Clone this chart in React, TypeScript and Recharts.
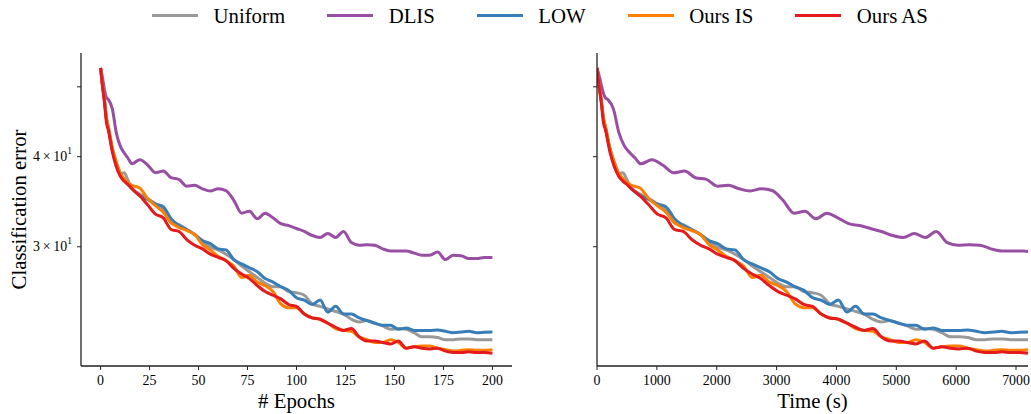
import { Line, LineChart, XAxis, YAxis } from "recharts";

// classification error (%), one value per epoch below
const epochs = [
  0, 1, 2, 3, 4, 6, 8, 10, 12, 14, 16,
  20, 24, 28, 32, 36, 40, 44, 48, 52, 56, 60, 64, 68, 72, 76, 80, 84, 88, 92, 96,
  100, 104, 108, 112, 116, 120, 124, 128, 132, 136, 140, 144, 148, 152, 156,
  160, 164, 168, 172, 176, 180, 184, 188, 192, 196, 200,
];

const uniform = [
  53.1, 50.2, 47.8, 45.1, 43.7, 40.9, 38.8, 37.9, 38.0, 37.1, 36.2,
  35.5, 35.0, 34.4, 33.8, 32.4, 32.2, 31.7, 31.2, 30.5, 29.97, 29.7, 29.3, 28.8, 28.2, 27.7, 27.2, 26.7, 26.4, 26.4, 26.0,
  25.9, 25.7, 25.0, 24.8, 24.6, 24.4, 24.2, 23.8, 23.6, 23.7, 23.5, 23.3, 23.05, 23.1, 23.05,
  22.8, 22.5, 22.5, 22.45, 22.3, 22.3, 22.35, 22.35, 22.3, 22.3, 22.3,
];

const dlis = [
  53.1, 51.4, 49.5, 48.3, 48.0, 46.6, 43.2, 41.4, 40.5, 39.8, 39.1,
  39.6, 38.95, 38.0, 38.2, 37.4, 37.2, 36.4, 36.5, 36.1, 35.85, 36.1, 35.9, 34.8, 33.4, 33.6, 32.8, 33.4, 32.9, 32.3, 32.1,
  31.8, 31.5, 31.1, 30.9, 31.3, 30.9, 31.5, 30.4, 30.15, 30.2, 30.15, 29.8, 29.6, 29.6, 29.6,
  29.4, 29.2, 29.2, 29.5, 28.8, 29.2, 29.15, 28.9, 28.9, 29.0, 29.0,
];

const low = [
  53.1, 50.2, 47.8, 45.1, 43.8, 41.0, 39.2, 37.9, 37.1, 36.6, 36.1,
  35.3, 34.9, 34.4, 34.1, 32.8, 32.1, 31.7, 31.2, 30.6, 30.3, 29.8, 29.7, 28.8, 28.4, 28.05, 27.7, 27.1, 26.8, 26.4, 26.1,
  25.5, 25.3, 24.95, 25.3, 24.35, 24.8, 24.2, 24.2, 23.9, 23.7, 23.5, 23.35, 23.35, 23.05, 23.15,
  22.97, 22.97, 22.97, 23.0, 22.9, 22.8, 22.85, 22.9, 22.8, 22.83, 22.85,
];

const oursIS = [
  53.1, 50.3, 48.0, 45.3, 44.0, 41.1, 39.4, 38.0, 37.3, 36.8, 36.5,
  36.2, 35.0, 34.2, 33.5, 32.4, 31.9, 31.6, 31.2, 30.2, 29.7, 29.1, 28.7, 28.2, 27.2, 27.4, 26.8, 26.5, 26.0, 25.0, 24.7,
  24.7, 24.2, 23.9, 23.8, 23.5, 23.1, 22.97, 22.9, 22.5, 22.3, 22.1, 22.1, 22.3, 22.1, 21.7,
  21.8, 21.85, 21.85, 21.7, 21.6, 21.5, 21.55, 21.6, 21.55, 21.55, 21.6,
];

const oursAS = [
  53.1, 50.0, 47.5, 44.6, 43.5, 40.6, 38.8, 37.6, 37.0, 36.6, 36.1,
  35.3, 34.3, 33.3, 32.9, 31.7, 31.5, 30.7, 30.15, 29.8, 29.3, 29.0, 28.7, 28.0, 27.5, 27.1, 26.5, 26.0, 25.7, 25.4, 24.95,
  24.8, 24.2, 23.9, 23.8, 23.5, 23.2, 22.97, 23.1, 22.5, 22.2, 22.2, 22.1, 22.0, 22.2, 21.7,
  21.8, 21.7, 21.65, 21.7, 21.5, 21.4, 21.4, 21.45, 21.4, 21.4, 21.35,
];

// wall-clock seconds per epoch for each method (DLIS is slower)
const secPerEpoch = { uniform: 36, dlis: 45.7, low: 36, oursIS: 36, oursAS: 36 };

const epochTicks = [0, 25, 50, 75, 100, 125, 150, 175, 200];
const timeTicks = [0, 1000, 2000, 3000, 4000, 5000, 6000, 7000];
const errorTicks = [30, 40, 50];

const series = [
  { key: "uniform", name: "Uniform", color: "#999999", values: uniform },
  { key: "dlis", name: "DLIS", color: "#984ea3", values: dlis },
  { key: "low", name: "LOW", color: "#377eb8", values: low },
  { key: "oursIS", name: "Ours IS", color: "#ff7f00", values: oursIS },
  { key: "oursAS", name: "Ours AS", color: "#e41a1c", values: oursAS },
] as const;

const FONT = '"Liberation Serif", "DejaVu Serif", "Times New Roman", serif';
const AXIS = "#222";

const epochData = epochs.map((e, i) => {
  const row: Record<string, number> = { epoch: e };
  series.forEach((s) => (row[s.key] = s.values[i]));
  return row;
});

const timeData = (key: keyof typeof secPerEpoch, values: readonly number[]) =>
  epochs.map((e, i) => ({ t: e * secPerEpoch[key], v: values[i] }));

const Y_DOMAIN: [number, number] = [20.5, 55.7];

function LogTick(props: any) {
  const { x, y, payload } = props;
  if (payload.value === 50) return <g />;
  return (
    <text x={x} y={y} textAnchor="end" dominantBaseline="central" fontSize={13.9} fill="#000">
      {`${payload.value / 10}\u2009×\u200910`}
      <tspan dy={-6} fontSize={9.5}>
        1
      </tspan>
    </text>
  );
}

function YLabel(props: any) {
  const vb = props.viewBox ?? { x: 0, y: 53, width: 81, height: 313 };
  const cx = vb.x + 18;
  const cy = vb.y + vb.height / 2;
  return (
    <text
      x={cx}
      y={cy}
      transform={`rotate(-90 ${cx} ${cy})`}
      textAnchor="middle"
      dominantBaseline="central"
      fontSize={20.8}
      fill="#000"
    >
      Classification error
    </text>
  );
}

function Legend() {
  return (
    <div
      style={{
        position: "absolute",
        top: 0,
        left: 152,
        height: 31,
        display: "flex",
        alignItems: "center",
        gap: 42,
        fontSize: 20.8,
        fontFamily: FONT,
        color: "#000",
      }}
    >
      {series.map((s) => (
        <div key={s.key} style={{ display: "flex", alignItems: "center" }}>
          <div style={{ width: 46, height: 3, background: s.color, marginRight: 15.5 }} />
          <span>{s.name}</span>
        </div>
      ))}
    </div>
  );
}

const axisCommon = {
  stroke: AXIS,
  tickLine: { stroke: AXIS, strokeWidth: 1 },
  axisLine: { stroke: AXIS, strokeWidth: 1.3 },
  tickSize: 4,
  tickMargin: 5,
};

export default function App() {
  return (
    <div style={{ position: "relative", width: 1031, height: 414, background: "#fff", fontFamily: FONT }}>
      <style>{"body{margin:0}"}</style>
      <Legend />
      <div style={{ position: "absolute", left: 0, top: 0 }}>
        <LineChart width={520} height={414} data={epochData} margin={{ top: 53, right: 8, bottom: 0, left: 0 }}>
          <XAxis
            dataKey="epoch"
            type="number"
            domain={[-10, 210]}
            ticks={epochTicks}
            height={48}
            {...axisCommon}
            tick={{ fontSize: 13.9, fill: "#000" }}
            label={{ value: "# Epochs", position: "insideBottom", offset: 6, fontSize: 20.8, fill: "#000" }}
          />
          <YAxis
            type="number"
            scale="log"
            domain={Y_DOMAIN}
            allowDataOverflow
            ticks={errorTicks}
            width={81}
            {...axisCommon}
            tick={<LogTick />}
            label={{ content: <YLabel /> }}
          />
          {series.map((s) => (
            <Line
              key={s.key}
              dataKey={s.key}
              name={s.name}
              type="monotone"
              stroke={s.color}
              strokeWidth={3}
              strokeLinejoin="round"
              dot={false}
              isAnimationActive={false}
            />
          ))}
        </LineChart>
      </div>
      <div style={{ position: "absolute", left: 520, top: 0 }}>
        <LineChart width={511} height={414} margin={{ top: 53, right: 3, bottom: 0, left: 0 }}>
          <XAxis
            dataKey="t"
            type="number"
            domain={[0, 7200]}
            allowDataOverflow
            ticks={timeTicks}
            height={48}
            {...axisCommon}
            tick={{ fontSize: 13.9, fill: "#000" }}
            label={{ value: "Time (s)", position: "insideBottom", offset: 6, fontSize: 20.8, fill: "#000" }}
          />
          <YAxis
            type="number"
            scale="log"
            domain={Y_DOMAIN}
            allowDataOverflow
            ticks={errorTicks}
            width={77}
            {...axisCommon}
            tick={() => <g />}
          />
          {series.map((s) => (
            <Line
              key={s.key}
              data={timeData(s.key, s.values)}
              dataKey="v"
              name={s.name}
              type="monotone"
              stroke={s.color}
              strokeWidth={3}
              strokeLinejoin="round"
              dot={false}
              isAnimationActive={false}
            />
          ))}
        </LineChart>
      </div>
    </div>
  );
}
